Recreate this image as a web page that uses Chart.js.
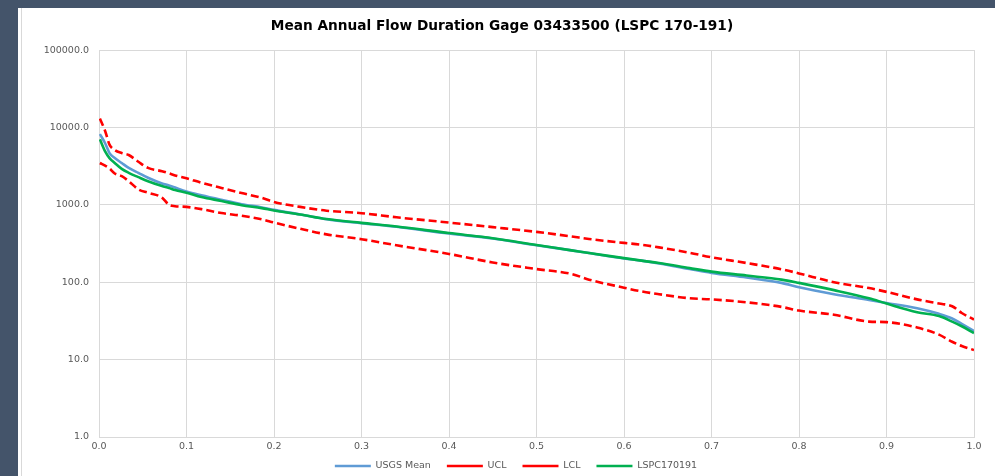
<!DOCTYPE html>
<html>
<head>
<meta charset="utf-8">
<script src="https://cdn.jsdelivr.net/npm/chart.js@4.4.1/dist/chart.umd.min.js"></script>
<style>
  html, body { margin: 0; padding: 0; background: #44546a; width: 995px; height: 476px; overflow: hidden; }
  #panel { position: absolute; left: 18px; top: 8px; width: 977px; height: 468px; background: #fff; }
  #panel::before { content: ""; position: absolute; left: 3px; top: 0; bottom: 0; border-left: 1px solid #d9d9d9; }
  canvas { position: absolute; left: 0; top: 0; }
</style>
</head>
<body>
<div id="panel"><canvas id="flowChart" width="977" height="468"></canvas></div>
<script>
// Exceedance probability (x) and flows
const exceedance = [0.001, 0.007, 0.012, 0.018, 0.026, 0.034, 0.045, 0.056, 0.072, 0.08,
    0.087, 0.1, 0.117, 0.14, 0.163, 0.186, 0.2, 0.23, 0.26, 0.3,
    0.34, 0.4, 0.45, 0.5, 0.54, 0.56, 0.6, 0.62, 0.64, 0.675,
    0.7, 0.74, 0.78, 0.8, 0.84, 0.88, 0.9, 0.935, 0.96, 0.975,
    0.986, 1.0];

const usgsMean = [8220, 6250, 4660, 4020, 3470, 3000, 2590, 2240, 1890, 1780,
    1670, 1490, 1330, 1160, 1020, 925, 860, 750, 650, 578,
    520, 425, 368, 300, 258, 238, 203, 190, 175, 148,
    132, 115, 98, 86, 70, 59, 54, 46, 39, 34,
    29, 23.5];

const ucl = [13000, 9000, 6000, 5100, 4660, 4400, 3600, 3000, 2720, 2550,
    2400, 2200, 1930, 1650, 1420, 1230, 1090, 940, 840, 780,
    690, 590, 515, 447, 390, 362, 322, 305, 282, 240,
    210, 177, 147, 130, 100, 84, 75, 60, 53, 49,
    40, 33];

const lcl = [3470, 3200, 2950, 2540, 2345, 2020, 1585, 1435, 1240, 1000,
    960, 940, 880, 783, 724, 650, 590, 490, 415, 360,
    300, 232, 180, 148, 128, 108, 85, 76, 70, 62,
    60, 55, 48, 43, 38, 31, 30.5, 26, 21, 17,
    15, 13.3];

const lspc = [7030, 4900, 4020, 3470, 2910, 2590, 2280, 2020, 1750, 1650,
    1550, 1435, 1260, 1120, 990, 906, 845, 750, 655, 585,
    525, 432, 370, 302, 258, 238, 205, 190, 177, 152,
    137, 122, 108, 98, 79, 62, 53, 41, 36.5, 31,
    27, 22];

const yTicks = [1, 10, 100, 1000, 10000, 100000];

const toPoints = vals => exceedance.map((x, i) => ({ x: x, y: vals[i] }));

const tickColor = '#595959';
const gridColor = '#d9d9d9';

// nudge title and legend to where the original sits
const nudgeBoxes = {
    id: 'nudgeBoxes',
    afterLayout(chart) {
        chart.titleBlock.left += 6;
        chart.titleBlock.right += 6;
        chart.legend.left += 20;
        chart.legend.right += 20;
        chart.legend.top -= 7.75;
        chart.legend.bottom -= 7.75;
    }
};

new Chart(document.getElementById('flowChart').getContext('2d'), {
    type: 'line',
    data: {
        datasets: [
            { label: 'USGS Mean', data: toPoints(usgsMean), borderColor: '#5f9bd5', backgroundColor: '#5f9bd5', borderWidth: 2.6, order: 3 },
            { label: 'UCL', data: toPoints(ucl), borderColor: '#ff0000', backgroundColor: '#ff0000', borderWidth: 2.6, borderDash: [8, 4], order: 2 },
            { label: 'LCL', data: toPoints(lcl), borderColor: '#ff0000', backgroundColor: '#ff0000', borderWidth: 2.6, borderDash: [8, 4], order: 1 },
            { label: 'LSPC170191', data: toPoints(lspc), borderColor: '#00b050', backgroundColor: '#00b050', borderWidth: 2.6, order: 0 }
        ]
    },
    plugins: [nudgeBoxes],
    options: {
        responsive: false,
        animation: false,
        devicePixelRatio: 1,
        layout: { padding: { left: 0, right: 21, top: 0, bottom: -12.5 } },
        elements: {
            point: { radius: 0 },
            line: { cubicInterpolationMode: 'monotone' }
        },
        plugins: {
            tooltip: { enabled: false },
            title: {
                display: true,
                text: 'Mean Annual Flow Duration Gage 03433500 (LSPC 170-191)',
                color: '#000',
                font: { family: 'DejaVu Sans', size: 13.7, weight: 'bold' },
                padding: { top: 10, bottom: 15.6 }
            },
            legend: {
                position: 'bottom',
                labels: {
                    usePointStyle: true,
                    pointStyle: 'line',
                    pointStyleWidth: 36,
                    boxHeight: 9,
                    padding: 16,
                    color: tickColor,
                    font: { family: 'DejaVu Sans', size: 9.5 },
                    sort: (a, b) => a.datasetIndex - b.datasetIndex
                }
            }
        },
        scales: {
            x: {
                type: 'linear',
                min: 0,
                max: 1,
                afterFit: scale => { scale.height = 16; },
                ticks: {
                    stepSize: 0.1,
                    padding: 4,
                    color: tickColor,
                    font: { family: 'DejaVu Sans', size: 9.5 },
                    maxRotation: 0,
                    callback: v => v.toFixed(1)
                },
                grid: { color: gridColor, drawTicks: false },
                border: { color: gridColor }
            },
            y: {
                type: 'logarithmic',
                min: 1,
                max: 100000,
                afterBuildTicks: scale => { scale.ticks = yTicks.map(v => ({ value: v })); },
                afterFit: scale => { scale.width = 81; },
                ticks: {
                    padding: 10,
                    color: tickColor,
                    font: { family: 'DejaVu Sans', size: 9.5 },
                    callback: v => Number(v).toFixed(1)
                },
                grid: { color: gridColor, drawTicks: false },
                border: { color: gridColor }
            }
        }
    }
});
</script>
</body>
</html>
